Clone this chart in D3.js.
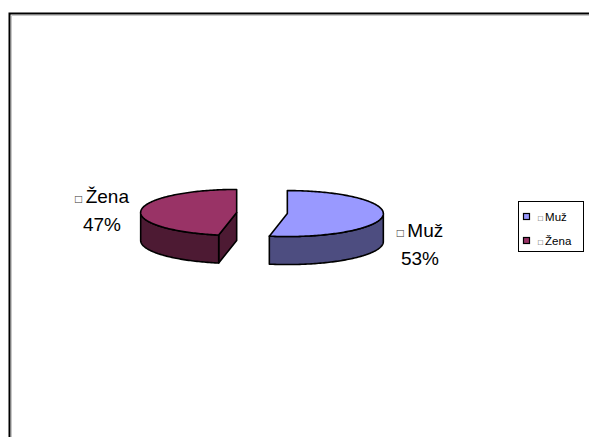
<!DOCTYPE html>
<html>
<head>
<meta charset="utf-8">
<script src="https://cdn.jsdelivr.net/npm/d3@7"></script>
<style>
  html, body { margin: 0; padding: 0; background: #fff; }
  svg { display: block; }
  text { font-family: "Liberation Sans", Arial, sans-serif; }
</style>
</head>
<body>
<svg id="chart" width="589" height="437"></svg>
<script>
// Respondents by gender (percent)
const categories = ["Muž", "Žena"];
const values = [53, 47];
const topColors = ["#9999FF", "#993366"];
const sideColors = ["#4D4D80", "#4D1A33"];

const svg = d3.select("#chart");

// Chart area frame (runs off the right and bottom edges)
svg.append("rect")
  .attr("x", 9.5).attr("y", 13.5)
  .attr("width", 640).attr("height", 480)
  .attr("fill", "#fff").attr("stroke", "#000").attr("stroke-width", 2);
svg.append("path")
  .attr("d", "M11.5,600V15.5H650")
  .attr("fill", "none").attr("stroke", "#c8c8c8").attr("stroke-width", 1);

// 3D pie geometry
const cx = 262, cy = 213, rx = 96, ry = 23, depth = 28, explode = 0.265;

const pie = d3.pie().sort(null).value(d => d)
  .startAngle(0).endAngle(2 * Math.PI);
const arcs = pie(values);

function pt(a, ox, oy, dy) {
  return [ox + rx * Math.sin(a), oy - ry * Math.cos(a) + dy];
}
function arcPoints(a0, a1, ox, oy, dy) {
  const n = Math.max(2, Math.ceil(Math.abs(a1 - a0) / 0.02));
  const pts = [];
  for (let i = 0; i <= n; i++) pts.push(pt(a0 + (a1 - a0) * i / n, ox, oy, dy));
  return pts;
}
const line = d3.line();

const g = svg.append("g");
arcs.forEach((d, i) => {
  const mid = (d.startAngle + d.endAngle) / 2;
  const ox = cx + explode * rx * Math.sin(mid);
  const oy = cy - explode * ry * Math.cos(mid);
  const sg = g.append("g");
  const draw = (pts, fill) => {
    sg.append("path").attr("d", line(pts) + "Z").attr("fill", fill)
      .attr("stroke", "#000").attr("stroke-width", 1.6)
      .attr("stroke-linejoin", "round");
  };

  // radial walls facing the viewer
  const eps = 1e-6;
  if (Math.sin(d.startAngle) < -eps) {
    const a = d.startAngle;
    draw([[ox, oy], pt(a, ox, oy, 0), pt(a, ox, oy, depth), [ox, oy + depth]], sideColors[i]);
  }
  if (Math.sin(d.endAngle) > eps) {
    const a = d.endAngle;
    draw([[ox, oy], pt(a, ox, oy, 0), pt(a, ox, oy, depth), [ox, oy + depth]], sideColors[i]);
  }

  // front part of the outer wall
  const f0 = Math.max(d.startAngle, Math.PI / 2);
  const f1 = Math.min(d.endAngle, 3 * Math.PI / 2);
  if (f1 > f0) {
    const topPts = arcPoints(f0, f1, ox, oy, 0);
    const botPts = arcPoints(f1, f0, ox, oy, depth);
    draw(topPts.concat(botPts), sideColors[i]);
  }

  // top face
  draw([[ox, oy]].concat(arcPoints(d.startAngle, d.endAngle, ox, oy, 0)), topColors[i]);
});

// Data labels
const labelPos = [[420, 237], [102, 203]];
arcs.forEach((d, i) => {
  const t = svg.append("text")
    .attr("text-anchor", "middle")
    .attr("font-size", 19)
    .attr("fill", "#000");
  const first = t.append("tspan").attr("x", labelPos[i][0]).attr("y", labelPos[i][1]);
  first.append("tspan").attr("font-size", 12).attr("fill", "#333").text("□\u00A0");
  first.append("tspan").text(categories[i]);
  t.append("tspan").attr("x", labelPos[i][0]).attr("dy", 28)
    .text(values[i] + "%");
});

// Legend
const legend = svg.append("g");
legend.append("rect")
  .attr("x", 518.5).attr("y", 201.5).attr("width", 65).attr("height", 50)
  .attr("fill", "#fff").attr("stroke", "#000").attr("stroke-width", 1);
categories.forEach((c, i) => {
  const y = 217 + i * 24;
  legend.append("rect")
    .attr("x", 523.5).attr("y", y - 3.5).attr("width", 6).attr("height", 6)
    .attr("fill", topColors[i]).attr("stroke", "#000").attr("stroke-width", 1.2);
  const t = legend.append("text")
    .attr("x", 538).attr("y", y + 4)
    .attr("font-size", 11.5).attr("fill", "#000");
  t.append("tspan").attr("font-size", 8).attr("fill", "#333").text("□\u00A0");
  t.append("tspan").text(c);
});
</script>
</body>
</html>
